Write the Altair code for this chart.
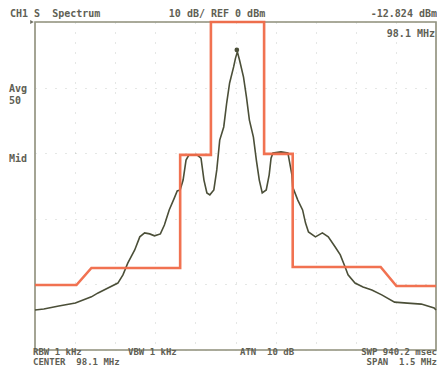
import altair as alt
import pandas as pd

# Spectrum trace (MHz, dBm)
trace_freq = [97.350, 97.383, 97.439, 97.501, 97.561, 97.586, 97.623, 97.660, 97.679, 97.697,
              97.723, 97.742, 97.760, 97.779, 97.797, 97.819, 97.834, 97.852, 97.871, 97.882,
              97.893, 97.904, 97.915, 97.926, 97.956, 97.971, 97.982, 97.993, 98.004, 98.019,
              98.030, 98.041, 98.056, 98.067, 98.078, 98.093, 98.100, 98.107, 98.115, 98.130,
              98.141, 98.152, 98.167, 98.178, 98.189, 98.200, 98.215, 98.226, 98.233, 98.240,
              98.270, 98.296, 98.311, 98.314, 98.333, 98.351, 98.362, 98.373, 98.399, 98.425,
              98.447, 98.473, 98.492, 98.510, 98.521, 98.547, 98.577, 98.610, 98.647, 98.695,
              98.743, 98.795, 98.843, 98.850]
trace_dbm = [-87.8, -87.5, -86.6, -85.7, -83.8, -82.6, -81.1, -79.6, -77.1, -73.5,
             -69.5, -65.5, -64.3, -64.6, -65.2, -64.6, -61.9, -57.3, -53.7, -51.5,
             -51.2, -48.2, -42.1, -40.5, -40.5, -41.5, -48.2, -52.1, -52.7, -51.2,
             -45.1, -36.0, -32.0, -24.7, -18.6, -13.7, -11.0, -9.1, -11.6, -16.8,
             -22.9, -29.9, -35.1, -42.1, -48.2, -52.1, -51.2, -46.6, -41.5, -39.9,
             -39.6, -39.9, -46.6, -50.3, -54.3, -57.3, -61.3, -64.0, -65.5, -64.3,
             -65.5, -68.6, -71.0, -74.7, -77.1, -79.6, -80.8, -81.7, -83.2, -85.4,
             -85.7, -86.0, -87.2, -87.8]

# Emission mask
mask_freq = [97.350, 97.505, 97.561, 97.893, 97.893, 98.008, 98.008, 98.207, 98.207,
             98.314, 98.314, 98.643, 98.702, 98.850]
mask_dbm = [-80.2, -80.2, -75.0, -75.0, -40.5, -40.5, 0.0, 0.0, -40.2,
            -40.2, -74.7, -74.7, -80.5, -80.5]

marker_freq = [98.105]
marker_dbm = [-8.5]

x_grid = [97.35, 97.50, 97.65, 97.80, 97.95, 98.10, 98.25, 98.40, 98.55, 98.70, 98.85]
y_grid = [0, -10, -20, -30, -40, -50, -60, -70, -80, -90, -100]

trace_df = pd.DataFrame({"f": trace_freq, "db": trace_dbm, "i": list(range(len(trace_freq)))})
mask_df = pd.DataFrame({"f": mask_freq, "db": mask_dbm, "i": list(range(len(mask_freq)))})
marker_df = pd.DataFrame({"f": marker_freq, "db": marker_dbm})

xs = alt.Scale(domain=[97.35, 98.85], nice=False, zero=False)
ys = alt.Scale(domain=[-100, 0], nice=False, zero=False)
grid_kw = dict(labels=False, ticks=False, domain=False, title=None, grid=True,
               gridDash=[1, 9], gridColor="#9aa09a", gridOpacity=0.5, gridWidth=1)
xax = alt.Axis(values=x_grid, **grid_kw)
yax = alt.Axis(values=y_grid, **grid_kw)

TXT = "#606054"
FONT = "DejaVu Sans Mono"
NB = "\u00a0"

trace = alt.Chart(trace_df).mark_line(color="#4b4f38", strokeWidth=1.6).encode(
    x=alt.X("f:Q", scale=xs, axis=xax),
    y=alt.Y("db:Q", scale=ys, axis=yax),
    order="i:Q",
)
mask = alt.Chart(mask_df).mark_line(color="#f06a48", strokeWidth=2.6, opacity=0.95).encode(
    x=alt.X("f:Q", scale=xs),
    y=alt.Y("db:Q", scale=ys),
    order="i:Q",
)
marker = alt.Chart(marker_df).mark_point(filled=True, color="#4b4f38", size=22, opacity=1).encode(
    x=alt.X("f:Q", scale=xs),
    y=alt.Y("db:Q", scale=ys),
)

one = pd.DataFrame({"k": [0]})
tri = alt.Chart(one).mark_point(shape="triangle-right", filled=True, color="#707064", size=18, opacity=1).encode(
    x=alt.value(-3), y=alt.value(0))

def label(t, x, y, align="left", size=10):
    return alt.Chart(one).mark_text(
        text=t.replace("  ", NB + NB), font=FONT, fontSize=size, fontWeight="bold", color=TXT,
        align=align, baseline="middle").encode(x=alt.value(x), y=alt.value(y))

texts = [
    label("CH1 S  Spectrum", -25, -8),
    label("10 dB/ REF 0 dBm", 182, -8, "center"),
    label("-12.824 dBm", 402, -8, "right"),
    label("98.1 MHz", 400, 12, "right"),
    label("Avg", -26, 67),
    label("50", -26, 79),
    label("Mid", -26, 137),
    label("RBW 1 kHz", -2, 330, size=9),
    label("VBW 1 kHz", 93, 330, size=9),
    label("ATN  10 dB", 205, 330, size=9),
    label("SWP 940.2 msec", 402, 330, "right", size=9),
    label("CENTER  98.1 MHz", -2, 340, size=9),
    label("SPAN  1.5 MHz", 402, 340, "right", size=9),
]

chart = alt.layer(trace, mask, marker, tri, *texts).properties(
    width=401, height=328,
    autosize=alt.AutoSizeParams(type="none"),
    padding={"left": 27, "top": 14, "right": 1, "bottom": 17},
    background="white",
).configure_view(stroke="#8e8e7a", strokeWidth=1.6)

chart.save("out.html", embed_options={"renderer": "svg", "actions": False})
